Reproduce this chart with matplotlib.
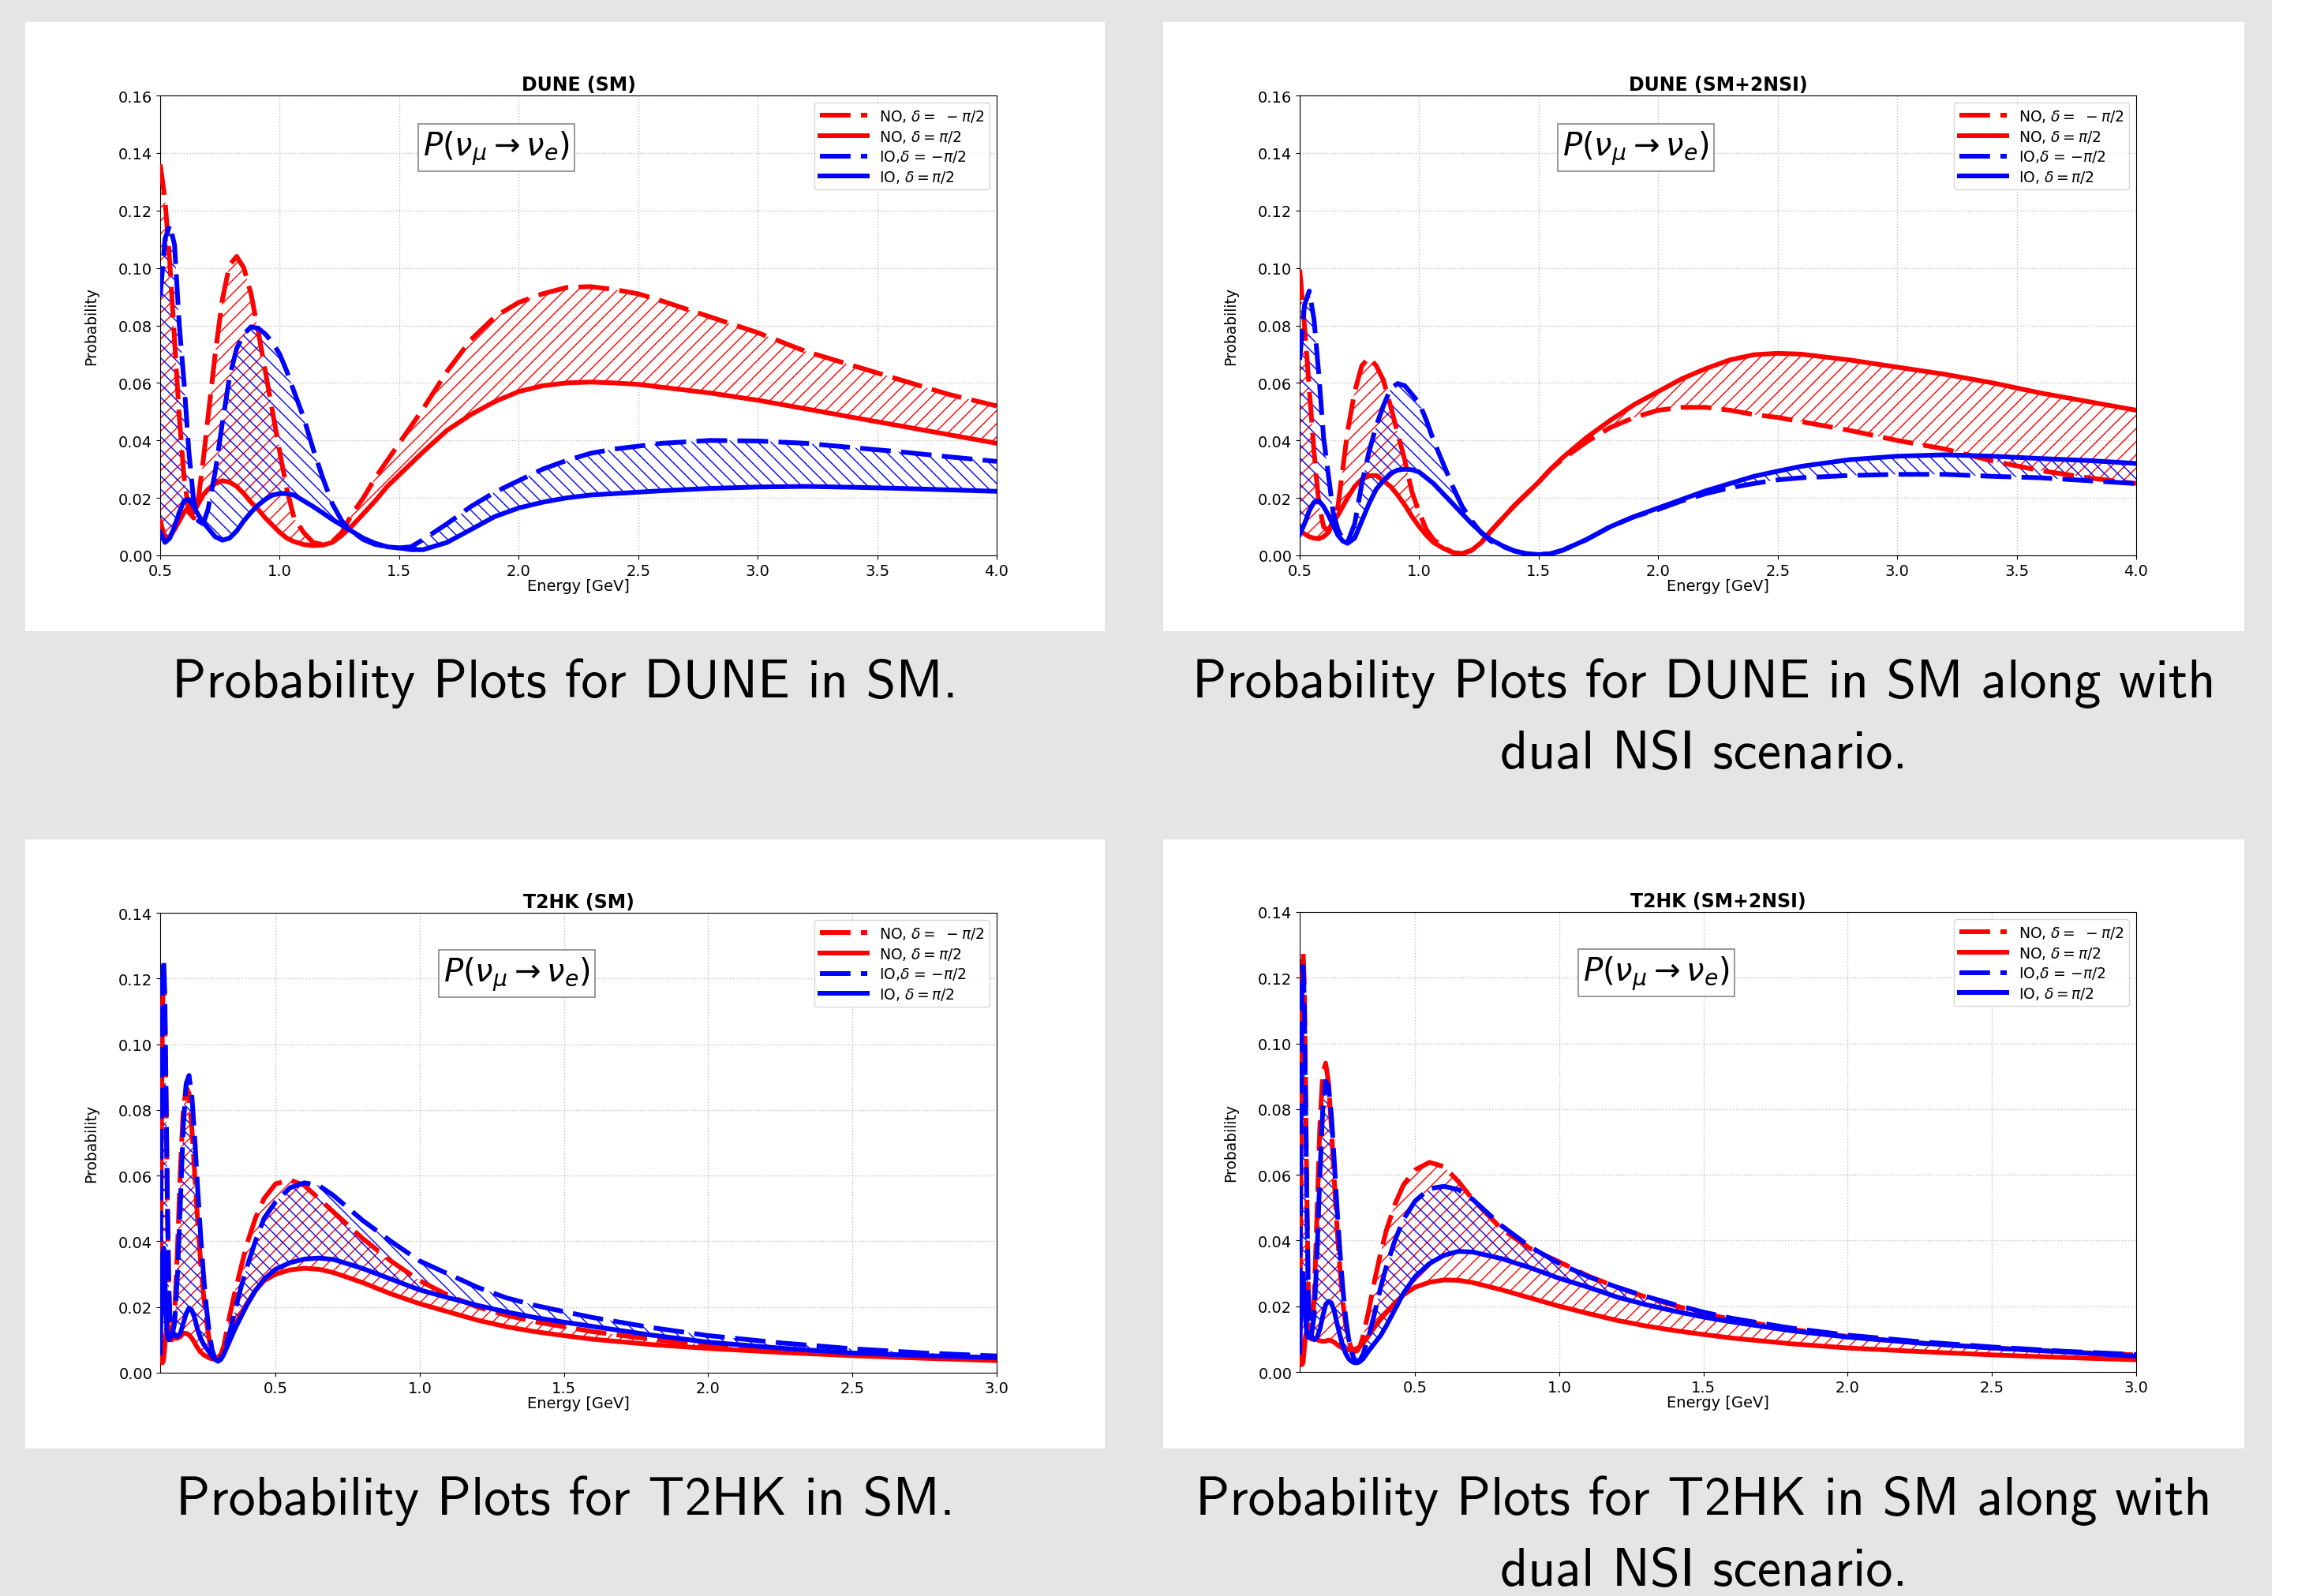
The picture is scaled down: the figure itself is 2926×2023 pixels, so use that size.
import numpy as np
import matplotlib
matplotlib.use('Agg')
import matplotlib.pyplot as plt
from matplotlib.patches import Rectangle
from matplotlib.ticker import FormatStrFormatter

W, H = 2926, 2024

# ---- data (energy in GeV, probability) ----
dune_energy = [0.50, 0.52, 0.54, 0.56, 0.58, 0.60, 0.62, 0.64, 0.66, 0.68, 0.70,
               0.73, 0.76, 0.79, 0.82, 0.85, 0.88, 0.91, 0.94, 0.97, 1.00, 1.03, 1.06,
               1.10, 1.14, 1.18, 1.22, 1.26, 1.30,
               1.35, 1.40, 1.45, 1.50, 1.55, 1.60,
               1.70, 1.80, 1.90, 2.00, 2.10, 2.20, 2.30, 2.40, 2.50, 2.60,
               2.80, 3.00, 3.20, 3.40, 3.60, 3.80, 4.00]

dune_sm_no_m = [0.136, 0.124, 0.102, 0.075, 0.048, 0.027, 0.015, 0.013, 0.020, 0.033, 0.048,
                0.070, 0.089, 0.101, 0.104, 0.100, 0.091, 0.078, 0.064, 0.050, 0.036, 0.023, 0.013,
                0.008, 0.0045, 0.0038, 0.0048, 0.008, 0.014,
                0.020, 0.027, 0.033, 0.039, 0.045, 0.051,
                0.064, 0.075, 0.083, 0.088, 0.091, 0.0932, 0.0935, 0.0925, 0.091, 0.0885,
                0.083, 0.0775, 0.071, 0.066, 0.061, 0.056, 0.052]
dune_sm_no_p = [0.012, 0.006, 0.0065, 0.009, 0.012, 0.015, 0.017, 0.015, 0.018, 0.021, 0.023,
                0.025, 0.026, 0.0255, 0.024, 0.0215, 0.0185, 0.016, 0.013, 0.0105, 0.008, 0.006, 0.0048,
                0.0038, 0.0034, 0.0036, 0.0045, 0.007, 0.010,
                0.0145, 0.019, 0.024, 0.028, 0.032, 0.036,
                0.0435, 0.049, 0.0535, 0.057, 0.059, 0.060, 0.0603, 0.060, 0.0595, 0.0585,
                0.0565, 0.054, 0.051, 0.048, 0.045, 0.042, 0.039]
dune_sm_io_m = [0.090, 0.110, 0.115, 0.108, 0.080, 0.060, 0.036, 0.019, 0.012, 0.011, 0.016,
                0.029, 0.046, 0.062, 0.072, 0.077, 0.0795, 0.079, 0.077, 0.074, 0.070, 0.064, 0.057,
                0.048, 0.037, 0.027, 0.018, 0.012, 0.0085,
                0.0055, 0.0038, 0.003, 0.0026, 0.003, 0.0055,
                0.011, 0.017, 0.022, 0.026, 0.030, 0.033, 0.0355, 0.037, 0.038, 0.039,
                0.040, 0.0398, 0.039, 0.0375, 0.036, 0.0343, 0.0327]
dune_sm_io_p = [0.008, 0.0045, 0.006, 0.010, 0.015, 0.019, 0.0195, 0.017, 0.014, 0.0115, 0.0095,
                0.0065, 0.0053, 0.006, 0.0085, 0.012, 0.015, 0.0175, 0.0195, 0.021, 0.0215, 0.0215, 0.021,
                0.019, 0.017, 0.0148, 0.0125, 0.0105, 0.0085,
                0.006, 0.0042, 0.003, 0.0026, 0.002, 0.002,
                0.0045, 0.009, 0.0135, 0.0165, 0.0185, 0.020, 0.021, 0.0215, 0.022, 0.0225,
                0.0233, 0.0238, 0.024, 0.0237, 0.0233, 0.0228, 0.0223]

dune_nsi_no_m = [0.0995, 0.080, 0.058, 0.036, 0.018, 0.010, 0.0085, 0.012, 0.017, 0.030, 0.043,
                 0.057, 0.066, 0.0688, 0.066, 0.061, 0.052, 0.0425, 0.033, 0.022, 0.015, 0.009, 0.0055,
                 0.003, 0.001, 0.0006, 0.0018, 0.0045, 0.0085,
                 0.013, 0.0175, 0.0215, 0.0255, 0.030, 0.0335,
                 0.0395, 0.0445, 0.048, 0.0505, 0.0515, 0.0515, 0.0505, 0.049, 0.048, 0.0465,
                 0.0435, 0.040, 0.037, 0.0328, 0.0295, 0.027, 0.025]
dune_nsi_no_p = [0.0085, 0.0075, 0.0065, 0.006, 0.0058, 0.0065, 0.008, 0.0115, 0.014, 0.017, 0.020,
                 0.024, 0.0265, 0.0277, 0.0278, 0.026, 0.024, 0.021, 0.0175, 0.0135, 0.010, 0.007, 0.0045,
                 0.0025, 0.001, 0.0006, 0.0018, 0.0045, 0.0085,
                 0.013, 0.0175, 0.0215, 0.0255, 0.030, 0.034,
                 0.041, 0.047, 0.0525, 0.057, 0.0615, 0.065, 0.068, 0.0698, 0.0703, 0.070,
                 0.068, 0.0655, 0.063, 0.060, 0.0565, 0.0535, 0.0505]
dune_nsi_io_m = [0.068, 0.087, 0.092, 0.082, 0.063, 0.041, 0.028, 0.015, 0.009, 0.0055, 0.0045,
                 0.011, 0.025, 0.036, 0.045, 0.052, 0.058, 0.0598, 0.059, 0.056, 0.053, 0.047, 0.040,
                 0.032, 0.024, 0.017, 0.012, 0.0078, 0.005,
                 0.0031, 0.0015, 0.0006, 0.0003, 0.0006, 0.0018,
                 0.0055, 0.010, 0.0135, 0.016, 0.019, 0.0215, 0.0235, 0.025, 0.0263, 0.027,
                 0.0278, 0.0282, 0.0282, 0.0275, 0.027, 0.026, 0.025]
dune_nsi_io_p = [0.0073, 0.011, 0.0155, 0.0185, 0.019, 0.017, 0.014, 0.0105, 0.007, 0.005, 0.0042,
                 0.006, 0.012, 0.018, 0.023, 0.026, 0.0285, 0.0297, 0.030, 0.0298, 0.029, 0.027, 0.025,
                 0.0215, 0.018, 0.0145, 0.011, 0.008, 0.0055,
                 0.0033, 0.0015, 0.0006, 0.0003, 0.0006, 0.0018,
                 0.0055, 0.010, 0.0135, 0.0165, 0.0195, 0.0225, 0.025, 0.0275, 0.0293, 0.031,
                 0.0333, 0.0345, 0.035, 0.0345, 0.0337, 0.033, 0.032]

t2hk_energy = [0.100, 0.104, 0.108, 0.112, 0.116, 0.120, 0.125, 0.130, 0.135, 0.140,
               0.15, 0.16, 0.17, 0.18, 0.19, 0.20, 0.21, 0.22, 0.23, 0.24, 0.25, 0.26, 0.27,
               0.28, 0.29, 0.30, 0.31, 0.32,
               0.34, 0.36, 0.38, 0.40,
               0.43, 0.46,
               0.50, 0.55, 0.60, 0.65, 0.70,
               0.8, 0.9, 1.0, 1.1, 1.2, 1.3, 1.4, 1.5, 1.6,
               1.8, 2.0,
               2.25, 2.5, 2.75, 3.0]

t2hk_sm_no_m = [0.020, 0.070, 0.110, 0.122, 0.112, 0.085, 0.050, 0.025, 0.013, 0.010,
                0.018, 0.038, 0.062, 0.080, 0.087, 0.085, 0.074, 0.060, 0.046, 0.034, 0.024, 0.016, 0.010,
                0.0065, 0.0048, 0.0045, 0.0055, 0.008,
                0.017, 0.025, 0.032, 0.039,
                0.047, 0.053,
                0.0575, 0.0587, 0.057, 0.053, 0.049,
                0.041, 0.034, 0.028, 0.0235, 0.020, 0.0175, 0.0155, 0.014, 0.0125,
                0.0102, 0.0085,
                0.007, 0.0058, 0.005, 0.0043]
t2hk_sm_no_p = [0.012, 0.006, 0.003, 0.004, 0.008, 0.012, 0.015, 0.014, 0.012, 0.011,
                0.0105, 0.0105, 0.011, 0.012, 0.012, 0.0115, 0.0105, 0.009, 0.0075, 0.0063, 0.0055, 0.005, 0.0045,
                0.0042, 0.0042, 0.0045, 0.0055, 0.007,
                0.0105, 0.0145, 0.018, 0.021,
                0.025, 0.028,
                0.030, 0.0313, 0.0318, 0.0315, 0.0305,
                0.0275, 0.024, 0.021, 0.0185, 0.016, 0.014, 0.0125, 0.0113, 0.0102,
                0.0086, 0.0074,
                0.0062, 0.0052, 0.0044, 0.0037]
t2hk_sm_io_m = [0.015, 0.075, 0.118, 0.126, 0.115, 0.088, 0.052, 0.026, 0.014, 0.011,
                0.015, 0.030, 0.052, 0.075, 0.088, 0.0905, 0.084, 0.071, 0.056, 0.042, 0.030, 0.020, 0.012,
                0.007, 0.0042, 0.0035, 0.0042, 0.006,
                0.012, 0.019, 0.026, 0.032,
                0.040, 0.047,
                0.052, 0.0563, 0.0578, 0.057, 0.054,
                0.0465, 0.040, 0.034, 0.030, 0.026, 0.0228, 0.0205, 0.0186, 0.0168,
                0.0138, 0.0113,
                0.0091, 0.0073, 0.006, 0.0051]
t2hk_sm_io_p = [0.006, 0.020, 0.035, 0.038, 0.030, 0.018, 0.011, 0.010, 0.011, 0.012,
                0.0115, 0.011, 0.012, 0.015, 0.018, 0.0197, 0.019, 0.0165, 0.013, 0.0105, 0.0088, 0.0075, 0.0063,
                0.005, 0.004, 0.0035, 0.004, 0.0055,
                0.0095, 0.0135, 0.017, 0.0205,
                0.025, 0.0285,
                0.0315, 0.0335, 0.0346, 0.0349, 0.0345,
                0.0318, 0.0285, 0.0252, 0.0228, 0.0205, 0.0185, 0.0168, 0.0154, 0.0141,
                0.0115, 0.0093,
                0.0075, 0.006, 0.0052, 0.0046]

t2hk_nsi_no_m = [0.004, 0.060, 0.115, 0.128, 0.118, 0.090, 0.052, 0.024, 0.012, 0.010,
                 0.022, 0.048, 0.075, 0.091, 0.094, 0.088, 0.074, 0.058, 0.043, 0.031, 0.021, 0.014, 0.0095,
                 0.007, 0.0062, 0.0065, 0.008, 0.011,
                 0.019, 0.028, 0.036, 0.043,
                 0.051, 0.057,
                 0.0615, 0.0638, 0.0625, 0.058, 0.0525,
                 0.0435, 0.0375, 0.0335, 0.0292, 0.0258, 0.0228, 0.0202, 0.0178, 0.016,
                 0.013, 0.0108,
                 0.0088, 0.0073, 0.0061, 0.0052]
t2hk_nsi_no_p = [0.012, 0.004, 0.0022, 0.003, 0.007, 0.011, 0.0125, 0.012, 0.011, 0.0105,
                 0.0102, 0.0098, 0.0095, 0.0093, 0.0094, 0.0097, 0.0095, 0.009, 0.0083, 0.0077, 0.0072, 0.0069, 0.0067,
                 0.0067, 0.0069, 0.0072, 0.0078, 0.0088,
                 0.0112, 0.0137, 0.016, 0.018,
                 0.021, 0.0235,
                 0.0258, 0.0273, 0.028, 0.0279, 0.0272,
                 0.025, 0.0225, 0.020, 0.0178, 0.0157, 0.014, 0.0126, 0.0114, 0.0103,
                 0.0086, 0.0073,
                 0.0062, 0.0052, 0.0044, 0.0037]
t2hk_nsi_io_m = [0.010, 0.070, 0.115, 0.1235, 0.113, 0.085, 0.050, 0.024, 0.013, 0.011,
                 0.017, 0.036, 0.060, 0.080, 0.0885, 0.087, 0.078, 0.064, 0.049, 0.036, 0.025, 0.016, 0.010,
                 0.006, 0.0038, 0.0032, 0.0038, 0.0055,
                 0.011, 0.018, 0.0255, 0.032,
                 0.040, 0.0465,
                 0.052, 0.0558, 0.0565, 0.0555, 0.0525,
                 0.0445, 0.038, 0.033, 0.029, 0.0258, 0.023, 0.0205, 0.0182, 0.0163,
                 0.0134, 0.0112,
                 0.0092, 0.0076, 0.0063, 0.0053]
t2hk_nsi_io_p = [0.006, 0.020, 0.030, 0.030, 0.024, 0.016, 0.0115, 0.0105, 0.0105, 0.0108,
                 0.0098, 0.0105, 0.013, 0.017, 0.0205, 0.0215, 0.021, 0.0185, 0.0145, 0.011, 0.0078, 0.0055, 0.004,
                 0.0032, 0.0028, 0.0028, 0.0032, 0.004,
                 0.0065, 0.0088, 0.011, 0.014,
                 0.019, 0.024,
                 0.029, 0.033, 0.0355, 0.0367, 0.0365,
                 0.0345, 0.0317, 0.0285, 0.0258, 0.0228, 0.0205, 0.0185, 0.0167, 0.0152,
                 0.0126, 0.0106,
                 0.0088, 0.0073, 0.0061, 0.0048]

titles = ['DUNE (SM)', 'DUNE (SM+2NSI)', 'T2HK (SM)', 'T2HK (SM+2NSI)']
captions = [['Probability Plots for DUNE in SM.'],
            ['Probability Plots for DUNE in SM along with', 'dual NSI scenario.'],
            ['Probability Plots for T2HK in SM.'],
            ['Probability Plots for T2HK in SM along with', 'dual NSI scenario.']]
legend_labels = [r'NO, $\delta =\ -\pi/2$', r'NO, $\delta = \pi/2$',
                 r'IO,$\delta$ = $-\pi/2$', r'IO, $\delta = \pi/2$']
dune_xticks = [0.5, 1.0, 1.5, 2.0, 2.5, 3.0, 3.5, 4.0]
t2hk_xticks = [0.5, 1.0, 1.5, 2.0, 2.5, 3.0]
dune_yticks = [0.0, 0.02, 0.04, 0.06, 0.08, 0.10, 0.12, 0.14, 0.16]
t2hk_yticks = [0.0, 0.02, 0.04, 0.06, 0.08, 0.10, 0.12, 0.14]


def fx(px):
    return px / W


def fy(py):
    return 1 - py / H


fig = plt.figure(figsize=(W / 100, H / 100), dpi=100)
fig.patch.set_facecolor('white')
fig.add_artist(Rectangle((0, 0), fx(2879), 1, transform=fig.transFigure,
                         facecolor='#e5e5e5', edgecolor='none', zorder=-10))

# white cards (left, top, right, bottom) in pixels
cards = [(32, 29, 1400, 801), (1474, 29, 2844, 801),
         (32, 1065, 1400, 1837), (1474, 1065, 2844, 1837)]
axes_px = [(203, 122, 1263, 705), (1647, 122, 2707, 705),
           (203, 1158, 1263, 1741), (1647, 1157, 2707, 1740)]
caption_base = [[884], [884, 974], [1920], [1920, 2010]]
box_pos = [(0.402, 0.887), (0.402, 0.887), (0.426, 0.868), (0.426, 0.868)]

panels = [
    (dune_energy, dune_sm_no_m, dune_sm_no_p, dune_sm_io_m, dune_sm_io_p, (0.5, 4.0), 0.16, dune_xticks, dune_yticks),
    (dune_energy, dune_nsi_no_m, dune_nsi_no_p, dune_nsi_io_m, dune_nsi_io_p, (0.5, 4.0), 0.16, dune_xticks, dune_yticks),
    (t2hk_energy, t2hk_sm_no_m, t2hk_sm_no_p, t2hk_sm_io_m, t2hk_sm_io_p, (0.1, 3.0), 0.14, t2hk_xticks, t2hk_yticks),
    (t2hk_energy, t2hk_nsi_no_m, t2hk_nsi_no_p, t2hk_nsi_io_m, t2hk_nsi_io_p, (0.1, 3.0), 0.14, t2hk_xticks, t2hk_yticks),
]

dash = (0, (6.5, 2.2))

for i, (energy, no_m, no_p, io_m, io_p, xlim, ytop, xt, yt) in enumerate(panels):
    l, t, r, b = cards[i]
    fig.add_artist(Rectangle((fx(l), fy(b)), fx(r) - fx(l), fy(t) - fy(b),
                             transform=fig.transFigure, facecolor='white',
                             edgecolor='none', zorder=-5))
    al, at, ar, ab = axes_px[i]
    ax = fig.add_axes([fx(al), fy(ab), fx(ar) - fx(al), fy(at) - fy(ab)])

    ax.fill_between(energy, no_m, no_p, facecolor='none', edgecolor='red',
                    hatch='//', linewidth=0, zorder=1)
    ax.fill_between(energy, io_m, io_p, facecolor='none', edgecolor='blue',
                    hatch='\\\\', linewidth=0, zorder=1)
    ax.plot(energy, no_m, color='red', lw=4.3, linestyle=dash, label=legend_labels[0], zorder=3)
    ax.plot(energy, no_p, color='red', lw=4.3, label=legend_labels[1], zorder=3)
    ax.plot(energy, io_m, color='blue', lw=4.3, linestyle=dash, label=legend_labels[2], zorder=4)
    ax.plot(energy, io_p, color='blue', lw=4.3, label=legend_labels[3], zorder=4)

    ax.set_xlim(*xlim)
    ax.set_ylim(0, ytop)
    ax.set_xticks(xt)
    ax.set_yticks(yt)
    ax.xaxis.set_major_formatter(FormatStrFormatter('%.1f'))
    ax.yaxis.set_major_formatter(FormatStrFormatter('%.2f'))
    ax.tick_params(labelsize=14)
    ax.grid(True, linestyle=':', color='#c0c0c0', linewidth=1.0)
    ax.set_axisbelow(True)
    ax.set_title(titles[i], fontweight='bold', fontsize=17, pad=5)
    ax.set_xlabel('Energy [GeV]', fontsize=14, labelpad=0)
    ax.set_ylabel('Probability', fontsize=13.5, labelpad=18)

    bx, by = box_pos[i]
    ax.text(bx, by, r'$P(\nu_\mu \rightarrow \nu_e)$', transform=ax.transAxes,
            ha='center', va='center', fontsize=29, zorder=6,
            bbox=dict(boxstyle='square,pad=0.15', facecolor='white',
                      edgecolor='#888888', linewidth=1.2))
    leg = ax.legend(loc='upper right', fontsize=13.5, handlelength=3.2,
                    labelspacing=0.3, borderpad=0.35)
    leg.set_zorder(7)

    cx = (l + r) / 2
    for line, base in zip(captions[i], caption_base[i]):
        fig.text(fx(cx), fy(base), line, ha='center', va='baseline',
                 fontsize=49, family='cmss10', color='black')

fig.savefig('out.png', dpi=100)
